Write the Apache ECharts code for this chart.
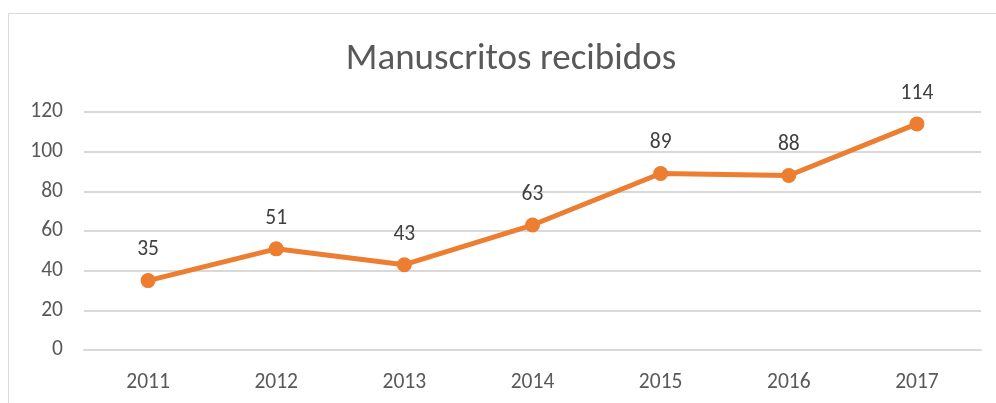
<!DOCTYPE html>
<html>
<head>
<meta charset="utf-8">
<script src="https://cdn.jsdelivr.net/npm/echarts@6/dist/echarts.min.js"></script>
<style>
  html, body { margin: 0; padding: 0; background: #fff; }
  #chart { width: 996px; height: 403px; }
</style>
</head>
<body>
<div id="chart"></div>
<script>
const years = ['2011', '2012', '2013', '2014', '2015', '2016', '2017'];
const manuscripts = [35, 51, 43, 63, 89, 88, 114];

const font = 'Carlito, "Open Sans", "Liberation Sans", sans-serif';
const chart = echarts.init(document.getElementById('chart'));

chart.setOption({
  animation: false,
  graphic: [{
    type: 'rect',
    shape: { x: 8.5, y: 13.5, width: 1100, height: 500 },
    style: { fill: 'none', stroke: '#d9d9d9', lineWidth: 1 },
    silent: true
  }],
  title: {
    text: 'Manuscritos recibidos',
    left: 506,
    top: 36,
    textAlign: 'center',
    textStyle: { fontFamily: font, fontSize: 37, fontWeight: 'normal', color: '#595959' }
  },
  grid: { left: 84, right: 15, top: 112, bottom: 53 },
  xAxis: {
    type: 'category',
    data: years,
    axisLine: { show: true, lineStyle: { color: '#d9d9d9', width: 2 } },
    axisTick: { show: false },
    axisLabel: { fontFamily: font, fontSize: 21.5, color: '#595959', margin: 22 }
  },
  yAxis: {
    type: 'value',
    min: 0,
    max: 120,
    interval: 20,
    axisLine: { show: false },
    axisTick: { show: false },
    splitLine: { lineStyle: { color: '#d9d9d9', width: 2 } },
    axisLabel: { fontFamily: font, fontSize: 21.5, color: '#595959', margin: 21 }
  },
  series: [{
    name: 'Manuscritos',
    type: 'line',
    data: manuscripts,
    symbol: 'circle',
    symbolSize: 15,
    lineStyle: { color: '#ED7D31', width: 5 },
    itemStyle: { color: '#ED7D31' },
    label: {
      show: true,
      position: 'top',
      distance: 12,
      fontFamily: font,
      fontSize: 21.5,
      color: '#404040'
    }
  }]
});
</script>
</body>
</html>
